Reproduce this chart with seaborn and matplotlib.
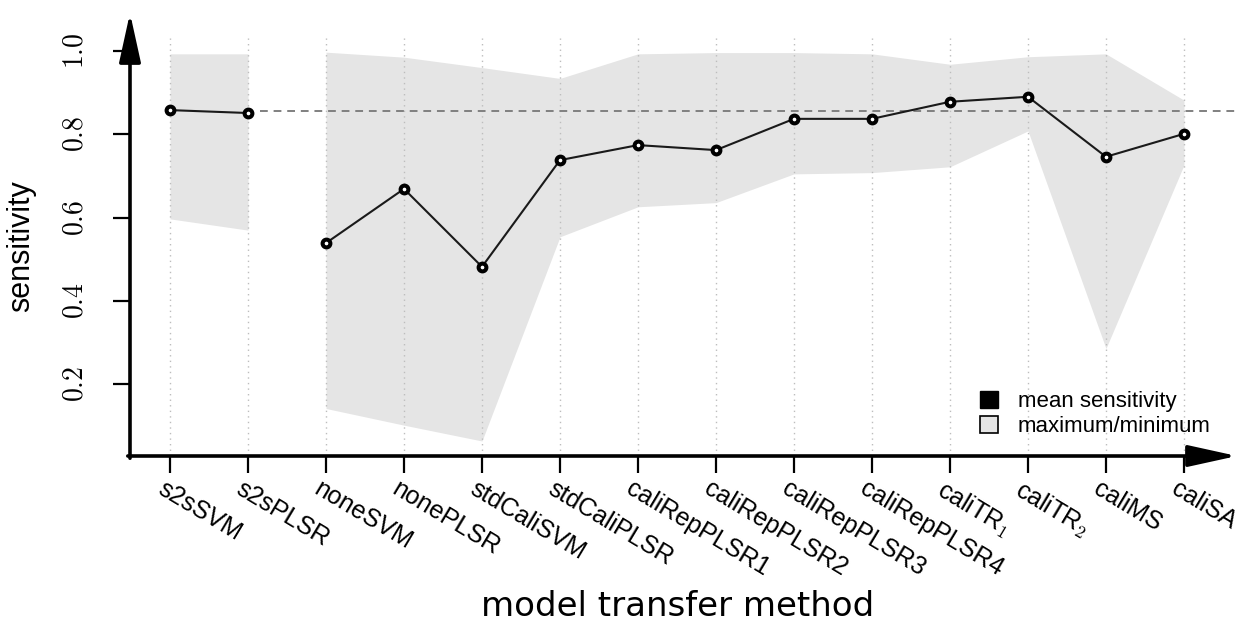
import numpy as np
import pandas as pd
import matplotlib
matplotlib.use("Agg")
import matplotlib.pyplot as plt
import seaborn as sns
from matplotlib.patches import Patch
from matplotlib.transforms import ScaledTranslation

methods = ["s2sSVM", "s2sPLSR", "noneSVM", "nonePLSR", "stdCaliSVM", "stdCaliPLSR",
           "caliRepPLSR1", "caliRepPLSR2", "caliRepPLSR3", "caliRepPLSR4",
           "caliTR$_1$", "caliTR$_2$", "caliMS", "caliSA"]
mean_sens = [0.858, 0.851, 0.539, 0.669, 0.482, 0.738, 0.774, 0.762,
             0.837, 0.837, 0.878, 0.890, 0.746, 0.801]
max_sens = [0.993, 0.993, 0.997, 0.985, 0.960, 0.934, 0.993, 0.996,
            0.996, 0.993, 0.968, 0.986, 0.993, 0.882]
min_sens = [0.597, 0.570, 0.142, 0.102, 0.064, 0.554, 0.626, 0.636,
            0.705, 0.708, 0.722, 0.808, 0.286, 0.726]
segment = [0, 0, 1, 1, 1, 1, 1, 1, 1, 1, 1, 1, 1, 1]
reference_sens = 0.857
y_ticks = [0.2, 0.4, 0.6, 0.8, 1.0]
y_tick_labels = ["$0.2$", "$0.4$", "$0.6$", "$0.8$", "$1.0$"]
legend_labels = ["mean sensitivity", "maximum/minimum"]

sns.set_theme(style="white")
plt.rcParams["font.family"] = ["Liberation Sans", "DejaVu Sans"]
plt.rcParams["mathtext.fontset"] = "cm"
for k in ["text.color", "axes.labelcolor", "xtick.color", "ytick.color"]:
    plt.rcParams[k] = "black"

W, H = 1248, 621
fig = plt.figure(figsize=(W / 100, H / 100), dpi=100)
ax = fig.add_axes([130 / W, (H - 456) / H, (1237 - 130) / W, (456 - 13) / H])

pos = np.arange(1, len(methods) + 1)
df = pd.DataFrame({"pos": pos, "method": methods, "mean": mean_sens,
                   "max": max_sens, "min": min_sens, "segment": segment})

XLIM = (0.487, 14.68)
YLIM = (0.028, 1.091)
fill_col = "#e5e5e5"

for seg, sub in df.groupby("segment"):
    ax.fill_between(sub["pos"], sub["min"], sub["max"], color=fill_col, lw=0, zorder=1)

ax.vlines(pos, YLIM[0], 1.031, colors="#bdbdbd", linestyles=(0, (1, 3)), lw=1.0, zorder=2)
ax.hlines(reference_sens, 2.15, XLIM[1], colors="#808080", linestyles=(0, (4, 3)), lw=1.4, zorder=2)

sns.lineplot(data=df, x="pos", y="mean", units="segment", estimator=None,
             color="#1a1a1a", lw=1.5, marker="o", markersize=5.6,
             markeredgewidth=2.9, markerfacecolor="white", markeredgecolor="black",
             zorder=3, ax=ax, legend=False)

ax.set_xlim(*XLIM)
ax.set_ylim(*YLIM)
for s in ax.spines.values():
    s.set_visible(False)

arrow_kw = dict(arrowstyle="-|>,head_length=1.5,head_width=0.33", lw=2.6, color="black",
                shrinkA=0, shrinkB=0, mutation_scale=20)
ax.annotate("", xy=(0, 1), xytext=(0, -0.005), xycoords="axes fraction",
            textcoords="axes fraction", arrowprops=arrow_kw, annotation_clip=False)
ax.annotate("", xy=(1, 0), xytext=(-0.002, 0), xycoords="axes fraction",
            textcoords="axes fraction", arrowprops=arrow_kw, annotation_clip=False)

ax.set_yticks(y_ticks)
ax.set_yticklabels(y_tick_labels, fontsize=20)
ax.tick_params(axis="y", left=True, direction="out", length=12, width=1.6,
               color="black", pad=18, labelrotation=90)
for lbl in ax.get_yticklabels():
    lbl.set_va("center")

ax.set_xticks(pos)
ax.set_xticklabels(methods, fontsize=18, rotation=-31, ha="left", va="top",
                   rotation_mode="anchor")
ax.tick_params(axis="x", bottom=True, direction="out", length=12, width=1.6,
               color="black", pad=3)
offset = ScaledTranslation(-4 / 100, 0, fig.dpi_scale_trans)
for lbl in ax.get_xticklabels():
    lbl.set_transform(lbl.get_transform() + offset)

ax.set_ylabel("sensitivity", fontsize=22, family=["Liberation Sans", "DejaVu Sans"])
ax.yaxis.set_label_coords((36 - 130) / 1107, 0.474)
ax.set_xlabel("model transfer method", fontsize=24.5, family=["DejaVu Sans"])
ax.xaxis.set_label_coords((678 - 130) / 1107, (456 - 590) / 443)

handles = [Patch(facecolor="black", edgecolor="black", lw=1.0),
           Patch(facecolor=fill_col, edgecolor="black", lw=1.2)]
fig.legend(handles, legend_labels, loc="upper left",
           bbox_to_anchor=(980 / W, 1 - 391 / H), frameon=False, fontsize=16,
           handlelength=0.8, handleheight=0.8, handletextpad=0.9,
           labelspacing=0.15, borderpad=0, borderaxespad=0)

fig.savefig("out.png", dpi=100)
